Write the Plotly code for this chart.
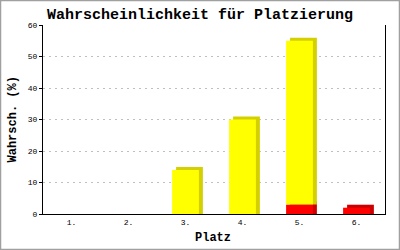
import plotly.graph_objects as go

places = [1, 2, 3, 4, 5, 6]
place_labels = ["1.", "2.", "3.", "4.", "5.", "6."]
red_vals = [0, 0, 0, 0, 3, 2]
yellow_vals = [0, 0, 14, 30, 52, 0]
y_ticks = [0, 10, 20, 30, 40, 50, 60]

W = 0.47      # bar width (category units)
DX = 0.07     # depth offset x (category units)
DY = 0.95     # depth offset y (value units)

FONT = "Liberation Mono"

def shadow(vals):
    return [v + DY if v > 0 else 0 for v in vals]

fig = go.Figure()
# depth (shadow) bars
fig.add_trace(go.Bar(x=places, y=shadow(red_vals), base=[0]*6, width=W,
                     offset=-W/2 + DX, marker=dict(color="#cc0000", line=dict(width=0)),
                     hoverinfo="skip"))
fig.add_trace(go.Bar(x=places, y=shadow(yellow_vals), base=red_vals, width=W,
                     offset=-W/2 + DX, marker=dict(color="#d4d000", line=dict(width=0)),
                     hoverinfo="skip"))
# front bars
fig.add_trace(go.Bar(x=places, y=red_vals, base=[0]*6, width=W, offset=-W/2,
                     marker=dict(color="#ff0000", line=dict(width=0))))
fig.add_trace(go.Bar(x=places, y=yellow_vals, base=red_vals, width=W, offset=-W/2,
                     marker=dict(color="#ffff00", line=dict(width=0))))

L, R, T, B = 43, 15, 25, 36
PW, PH = 400 - L - R, 250 - T - B

fig.update_layout(
    width=400, height=250,
    margin=dict(l=L, r=R, t=T, b=B, pad=0, autoexpand=False),
    barmode="overlay",
    showlegend=False,
    paper_bgcolor="white", plot_bgcolor="white",
    title=dict(text="<b>Wahrscheinlichkeit für Platzierung</b>",
               font=dict(family=FONT, size=15, color="black"),
               x=0.5, xanchor="center", y=1 - 14/250, yanchor="middle"),
    font=dict(family=FONT, color="black"),
    xaxis=dict(range=[0.5, 6.5], tickvals=places, ticktext=place_labels,
               tickfont=dict(size=8), showgrid=False, zeroline=False,
               showline=True, linecolor="black", linewidth=1, ticks="",
               automargin=False, fixedrange=True),
    yaxis=dict(range=[0, 60], tickvals=y_ticks, tickfont=dict(size=8),
               showgrid=True, gridcolor="#c0c0c0", griddash="2px,4px", gridwidth=1,
               zeroline=False, showline=True, mirror=True, linecolor="black", linewidth=1,
               ticks="outside", ticklen=3, tickcolor="black", automargin=False,
               fixedrange=True),
    annotations=[
        dict(text="<b>Platz</b>", xref="paper", yref="paper", x=(213 - L)/PW,
             y=0, yshift=-24, xanchor="center", yanchor="middle", showarrow=False,
             font=dict(family=FONT, size=12, color="black")),
        dict(text="<b>Wahrsch. (%)</b>", xref="paper", yref="paper", x=0, xshift=-31,
             y=0.5, xanchor="center", yanchor="middle", textangle=-90, showarrow=False,
             font=dict(family=FONT, size=12, color="black")),
    ],
    shapes=[dict(type="rect", xref="paper", yref="paper",
                 x0=-(L - 0.5)/PW, x1=(400 - L - 0.5)/PW,
                 y0=-(B - 0.5)/PH, y1=(250 - B - 0.5)/PH,
                 line=dict(color="#a0a0a0", width=1.5), layer="above")],
)

fig.write_html("out.html")
